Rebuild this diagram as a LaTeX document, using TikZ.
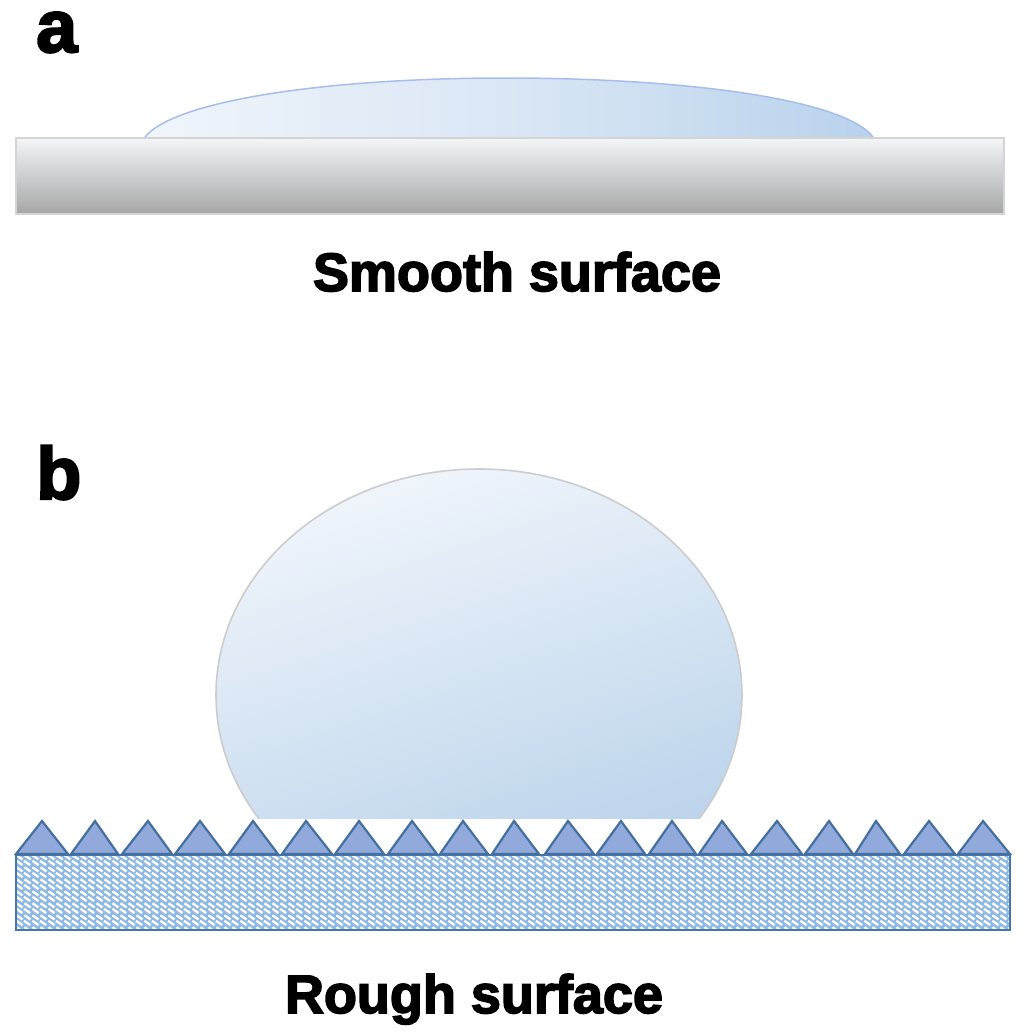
\documentclass[tikz,border=0pt]{standalone}
\usepackage{fontspec}
\setmainfont[BoldFeatures={FakeBold=3}]{Liberation Sans}
\usetikzlibrary{patterns}
\definecolor{toothfill}{HTML}{92A9DC}
\definecolor{toothline}{HTML}{44709F}
\definecolor{slabbase}{HTML}{8FB9E2}
\definecolor{slabline}{HTML}{4477AC}
\definecolor{dropa}{HTML}{B9D2EC}
\definecolor{droplight}{HTML}{F0F5FB}
\definecolor{dropmid}{HTML}{DAE7F5}
\definecolor{dropdark}{HTML}{B6D0EA}
\definecolor{barhi}{HTML}{F3F5F7}
\definecolor{barmid}{HTML}{D6D7D7}
\definecolor{barlo}{HTML}{A6A6A6}
\definecolor{baredge}{HTML}{D4D4D4}
\pgfdeclarepatternformonly{slabweave}{\pgfqpoint{0pt}{0pt}}{\pgfqpoint{16pt}{12pt}}{\pgfqpoint{16pt}{12pt}}{%
  \pgfsetlinewidth{2.5pt}\pgfsetbuttcap
  \pgfpathmoveto{\pgfqpoint{0.5pt}{11.5pt}}\pgfpathlineto{\pgfqpoint{7pt}{7pt}}\pgfusepath{stroke}
  \pgfpathmoveto{\pgfqpoint{8.5pt}{5.5pt}}\pgfpathlineto{\pgfqpoint{15pt}{1pt}}\pgfusepath{stroke}
  \pgfpathmoveto{\pgfqpoint{9pt}{11.5pt}}\pgfpathlineto{\pgfqpoint{15.5pt}{7pt}}\pgfusepath{stroke}
  \pgfpathmoveto{\pgfqpoint{0.5pt}{5.5pt}}\pgfpathlineto{\pgfqpoint{7pt}{1pt}}\pgfusepath{stroke}
}
\tikzset{
  x=1pt,y=-1pt,
  label text/.style={font=\bfseries\fontsize{54}{54}\selectfont,text=black,inner sep=0pt,anchor=base},
  panel letter/.style={font=\bfseries\fontsize{74}{74}\selectfont,text=black,inner sep=0pt,anchor=base west},
  tooth/.style={draw=toothline,fill=toothfill,line width=2.2pt,line join=miter},
}
\begin{document}
\begin{tikzpicture}
\useasboundingbox (0,0) rectangle (1024,1034);
% panel a droplet
\shade[left color=droplight,right color=dropa,middle color=dropmid]
  (145,137) .. controls (175,100) and (330,78) .. (505,78) .. controls (690,78) and (845,100) .. (873,137) -- cycle;
\draw[color=dropa!90!blue,line width=1.5pt]
  (145,137) .. controls (175,100) and (330,78) .. (505,78) .. controls (690,78) and (845,100) .. (873,137);
% smooth slab
\shade[top color=barhi,middle color=barmid,bottom color=barlo] (16,138) rectangle (1004,214);
\draw[baredge,line width=2.5pt] (16,138) rectangle (1004,214);
% panel b droplet
\begin{scope}
  \clip (200,450) rectangle (760,818.5);
  \shade[top color=droplight,bottom color=dropdark,shading angle=18]
    (479,695) ellipse [x radius=263,y radius=226];
  \draw[gray!40,line width=1.6pt] (479,695) ellipse [x radius=263,y radius=226];
\end{scope}
% rough slab
\fill[slabbase] (16,855) rectangle (1010,930);
\fill[pattern=slabweave,pattern color=white] (16,855) rectangle (1010,930);
\draw[slabline,line width=2.5pt] (16,855) rectangle (1010,930);
% teeth
\foreach \l/\p/\r in {16/42/68,71/95/118,122/148/172,175/200/225,229/253/278,282/306/332,335/359/384,388/412/437,440/463/488,492/514/539,545/568/594,597/621/645,649/672/696,699/722/747,751/777/802,805/829/853,855/876/900,904/929/955,958/983/1010}
  \draw[tooth] (\l,854) -- (\p,821) -- (\r,854) -- cycle;
% text
\node[panel letter] (la) at (36,52) {a};
\node[panel letter] (lb) at (36,499) {b};
\node[label text] (smooth) at (517,291) {Smooth surface};
\node[label text] (rough) at (474,1013) {Rough surface};
\end{tikzpicture}
\end{document}
